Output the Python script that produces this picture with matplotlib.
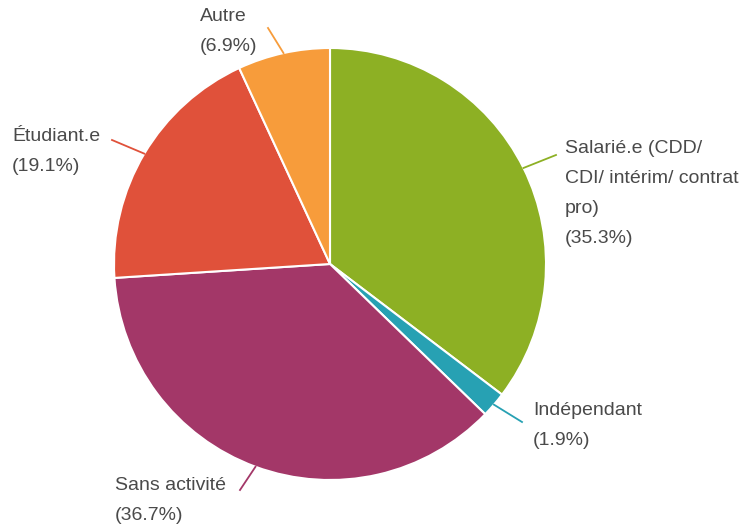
import numpy as np
import matplotlib.pyplot as plt

labels = ['Salarié.e (CDD/\nCDI/ intérim/ contrat\npro)', 'Indépendant', 'Sans activité', 'Étudiant.e', 'Autre']
values = [35.3, 1.9, 36.7, 19.1, 6.9]
colors = ['#8db024', '#27a1b3', '#a33768', '#e0513a', '#f79c3b']

# pixel positions of text (left, top of first line) and leader line ends
text_px = [(565, 140), (533, 402), (115, 477), (12, 128), (200, 8)]
line_end_px = [(556, 155), (522, 422), (240, 490), (112, 140), (268, 28)]

W, H = 746, 524
CX, CY, R = 330, 264, 216


def to_data(px, py):
    return (px - CX) / R, (CY - py) / R


def main():
    plt.rcParams['font.family'] = ['Liberation Sans', 'DejaVu Sans']
    fig = plt.figure(figsize=(W / 100, H / 100), dpi=100)
    ax = fig.add_axes([(CX - R) / W, (H - CY - R) / H, 2 * R / W, 2 * R / H])
    wedges, _ = ax.pie(values, colors=colors, startangle=90, counterclock=False,
                       radius=1, wedgeprops=dict(edgecolor='white', linewidth=1.5))
    ax.set_xlim(-1, 1)
    ax.set_ylim(-1, 1)
    ax.set_aspect('equal')
    ax.axis('off')

    for w, lab, v, c, tp, le in zip(wedges, labels, values, colors, text_px, line_end_px):
        ang = np.deg2rad((w.theta1 + w.theta2) / 2)
        x0, y0 = np.cos(ang), np.sin(ang)
        x1, y1 = to_data(*le)
        ax.plot([x0, x1], [y0, y1], color=c, lw=1.3, clip_on=False)
        tx, ty = to_data(*tp)
        ax.text(tx, ty, f'{lab}\n({v}%)', ha='left', va='top', fontsize=14,
                color='#4a4a4a', linespacing=2.0)

    fig.savefig('out.png', dpi=100)


if __name__ == '__main__':
    main()
